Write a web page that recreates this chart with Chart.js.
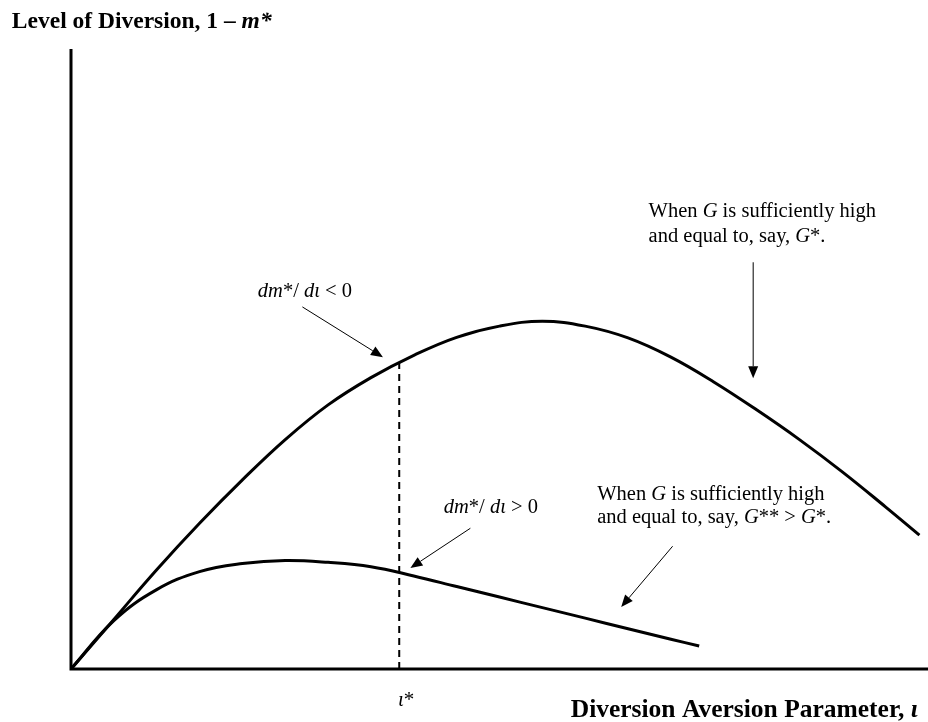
<!DOCTYPE html>
<html lang="en">
<head>
<meta charset="UTF-8">
<title>Level of Diversion</title>
<script src="https://cdn.jsdelivr.net/npm/chart.js"></script>
<style>
  body { margin: 0; background: #fff; }
</style>
</head>
<body>
<canvas id="chart" width="928" height="722"></canvas>
<script>
// curve values (x: aversion parameter, y: level of diversion)
const upperX = [0, 5, 10, 15, 20, 25, 30, 35, 40, 45, 50, 55, 60, 65, 70, 75, 80, 85, 90, 95, 99];
const upperY = [0, 8, 16, 23.5, 30.5, 37, 42.6, 47, 50.6, 53.5, 55.3, 56.1, 55.3, 53.4, 50.3, 46.3, 41.8, 37, 31.8, 26.2, 21.6];
const lowerX = [0, 5, 10, 15, 20, 25, 30, 35, 40, 45, 50, 55, 60, 65, 70, 73.3];
const lowerY = [0, 7.8, 12.8, 15.7, 17, 17.5, 17.2, 16.5, 15.0, 13.3, 11.6, 9.9, 8.2, 6.5, 4.8, 3.7];
const tStar = 38.3;
const tStarTop = 49.4;

const serif = '"Liberation Serif", "Times New Roman", serif';

// text notes: [x, y, runs, align, size]  runs = [text, style]
const notes = [
  [-6.9, 104.4, [['Level of Diversion, 1 \u2013 ', 'bold'], ['m*', 'bold italic']], 'left', 23.5],
  [67.4, 73.7, [['When ', ''], ['G', 'italic'], [' is sufficiently high', '']], 'left', 20.5],
  [67.4, 69.7, [['and equal to, say, ', ''], ['G', 'italic'], ['*.', '']], 'left', 20.5],
  [21.8, 60.8, [['dm', 'italic'], ['*/ ', ''], ['d\u03b9', 'italic'], [' < 0', '']], 'left', 20.5],
  [43.5, 26.0, [['dm', 'italic'], ['*/ ', ''], ['d\u03b9', 'italic'], [' > 0', '']], 'left', 20.5],
  [61.4, 28.2, [['When ', ''], ['G', 'italic'], [' is sufficiently high', '']], 'left', 20.5],
  [61.4, 24.4, [['and equal to, say, ', ''], ['G', 'italic'], ['** > ', ''], ['G', 'italic'], ['*.', '']], 'left', 20.5],
  [39.1, -5, [['\u03b9', 'italic'], ['*', '']], 'center', 21],
  [98.8, -6.6, [['Diversion Aversion Parameter, ', 'bold'], ['\u03b9', 'bold italic']], 'right', 25.5]
];

// arrows: [x1, y1, x2, y2] head at the second point
const arrows = [
  [79.6, 65.6, 79.6, 46.9],
  [27.0, 58.4, 36.4, 50.3],
  [46.6, 22.7, 39.6, 16.3],
  [70.2, 19.8, 64.2, 10.0]
];

function toPoints(xs, ys) {
  return xs.map((x, i) => ({ x: x, y: ys[i] }));
}

const notesPlugin = {
  id: 'notes',
  afterDatasetsDraw(chart) {
    const ctx = chart.ctx;
    const xs = chart.scales.x, ys = chart.scales.y;
    const area = chart.chartArea;
    ctx.save();

    // axes
    ctx.strokeStyle = '#000';
    ctx.lineWidth = 3;
    ctx.beginPath();
    ctx.moveTo(area.left, area.top);
    ctx.lineTo(area.left, area.bottom);
    ctx.lineTo(chart.width, area.bottom);
    ctx.stroke();

    // arrows
    ctx.lineWidth = 1;
    ctx.fillStyle = '#000';
    arrows.forEach(a => {
      const x1 = xs.getPixelForValue(a[0]), y1 = ys.getPixelForValue(a[1]);
      const x2 = xs.getPixelForValue(a[2]), y2 = ys.getPixelForValue(a[3]);
      const ang = Math.atan2(y2 - y1, x2 - x1);
      const len = 12, half = 5;
      const bx = x2 - len * Math.cos(ang), by = y2 - len * Math.sin(ang);
      ctx.beginPath();
      ctx.moveTo(x1, y1);
      ctx.lineTo(bx, by);
      ctx.stroke();
      ctx.beginPath();
      ctx.moveTo(x2, y2);
      ctx.lineTo(bx + half * Math.sin(ang), by - half * Math.cos(ang));
      ctx.lineTo(bx - half * Math.sin(ang), by + half * Math.cos(ang));
      ctx.closePath();
      ctx.fill();
    });

    // text
    ctx.textBaseline = 'middle';
    ctx.textAlign = 'left';
    notes.forEach(n => {
      const size = n[4];
      let width = 0;
      n[2].forEach(r => {
        ctx.font = (r[1] ? r[1] + ' ' : '') + size + 'px ' + serif;
        width += ctx.measureText(r[0]).width;
      });
      let x = xs.getPixelForValue(n[0]);
      if (n[3] === 'center') x -= width / 2;
      if (n[3] === 'right') x -= width;
      const y = ys.getPixelForValue(n[1]);
      n[2].forEach(r => {
        ctx.font = (r[1] ? r[1] + ' ' : '') + size + 'px ' + serif;
        ctx.fillText(r[0], x, y);
        x += ctx.measureText(r[0]).width;
      });
    });
    ctx.restore();
  }
};

new Chart(document.getElementById('chart'), {
  type: 'line',
  data: {
    datasets: [
      {
        data: toPoints(upperX, upperY),
        borderColor: '#000',
        borderWidth: 3,
        pointRadius: 0,
        tension: 0.4
      },
      {
        data: toPoints(lowerX, lowerY),
        borderColor: '#000',
        borderWidth: 3,
        pointRadius: 0,
        tension: 0.4
      },
      {
        data: [{ x: tStar, y: 0 }, { x: tStar, y: tStarTop }],
        borderColor: '#000',
        borderWidth: 2,
        borderDash: [7, 5],
        pointRadius: 0
      }
    ]
  },
  options: {
    responsive: false,
    animation: false,
    layout: { padding: { left: 71, top: 49, right: 0, bottom: 53 } },
    plugins: { legend: { display: false }, tooltip: { enabled: false } },
    scales: {
      x: {
        type: 'linear', min: 0, max: 100,
        ticks: { display: false }, grid: { display: false }, border: { display: false },
        afterFit: s => { s.height = 0; }
      },
      y: {
        type: 'linear', min: 0, max: 100,
        ticks: { display: false }, grid: { display: false }, border: { display: false },
        afterFit: s => { s.width = 0; }
      }
    }
  },
  plugins: [notesPlugin]
});
</script>
</body>
</html>
